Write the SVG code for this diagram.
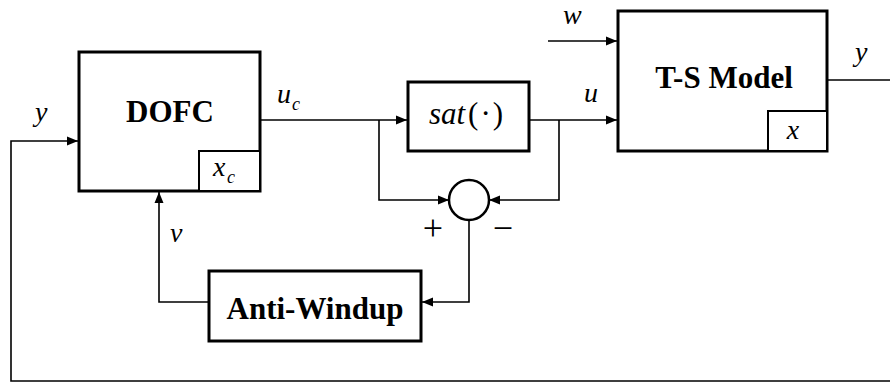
<svg xmlns="http://www.w3.org/2000/svg" width="890" height="385" viewBox="0 0 890 385">
<defs>
<marker id="arr" markerWidth="12" markerHeight="10" refX="11" refY="5" orient="auto" markerUnits="userSpaceOnUse">
<path d="M0,0.5 L11,5 L0,9.5 Z" fill="#000"/>
</marker>
<style>
.blk{fill:#fff;stroke:#000;stroke-width:3}
.sub{fill:#fff;stroke:#000;stroke-width:2}
.ln{fill:none;stroke:#000;stroke-width:1.6}
.ttl{font-family:'Liberation Serif','Times New Roman',serif;font-weight:bold;font-size:31px;text-anchor:middle;fill:#000}
.m{font-family:'Liberation Serif','Times New Roman',serif;font-style:italic;font-size:28px;fill:#000}
.s{font-family:'Liberation Serif','Times New Roman',serif;font-style:italic;font-size:18px;fill:#000}
.r{font-family:'Liberation Serif','Times New Roman',serif;font-size:36px;fill:#000}
</style>
</defs>
<rect width="890" height="385" fill="#fff"/>
<g id="connectors">
<path class="ln" d="M890 381 L11 381 L11 141 L78 141" marker-end="url(#arr)"/>
<path class="ln" d="M260 120 L407 120" marker-end="url(#arr)"/>
<path class="ln" d="M379 120 L379 200 L449 200" marker-end="url(#arr)"/>
<path class="ln" d="M529 120 L617 120" marker-end="url(#arr)"/>
<path class="ln" d="M559 120 L559 200 L489 200" marker-end="url(#arr)"/>
<path class="ln" d="M469 220 L469 302 L422 302" marker-end="url(#arr)"/>
<path class="ln" d="M209 302 L159 302 L159 192" marker-end="url(#arr)"/>
<path class="ln" d="M548 41 L617 41" marker-end="url(#arr)"/>
<path class="ln" d="M827 80 L890 80"/>
</g>
<g id="dofc">
<rect class="blk" x="79" y="52" width="181" height="139"/>
<rect class="sub" x="199" y="151" width="61" height="40"/>
<text class="ttl" x="170" y="122">DOFC</text>
<text class="m" x="213" y="176">x</text>
<text class="s" x="227" y="183">c</text>
</g>
<g id="sat">
<rect class="blk" x="408" y="82" width="121" height="69"/>
<text x="466" y="124" text-anchor="middle" font-family="'Liberation Serif','Times New Roman',serif" font-size="31"><tspan font-style="italic">sat</tspan><tspan dx="3">(</tspan><tspan dx="2">·</tspan><tspan dx="2">)</tspan></text>
</g>
<g id="sum">
<circle cx="469" cy="200" r="20" fill="#fff" stroke="#000" stroke-width="2.5"/>
<text class="r" x="433" y="240" text-anchor="middle">+</text>
<text class="r" x="503" y="240" text-anchor="middle">−</text>
</g>
<g id="tsmodel">
<rect class="blk" x="618" y="11" width="209" height="140"/>
<rect class="sub" x="768" y="111" width="59" height="40"/>
<text class="ttl" x="724" y="88">T-S Model</text>
<text class="m" x="793" y="139" text-anchor="middle">x</text>
</g>
<g id="antiwindup">
<rect class="blk" x="209" y="271" width="212" height="70"/>
<text class="ttl" x="315" y="319">Anti-Windup</text>
</g>
<g id="labels">
<text class="m" x="35" y="121">y</text>
<text class="m" x="277" y="103">u</text>
<text class="s" x="292" y="110">c</text>
<text class="m" x="584" y="102">u</text>
<text class="m" x="170" y="242">v</text>
<text class="m" x="563" y="24">w</text>
<text class="m" x="855" y="61">y</text>
</g>
</svg>
